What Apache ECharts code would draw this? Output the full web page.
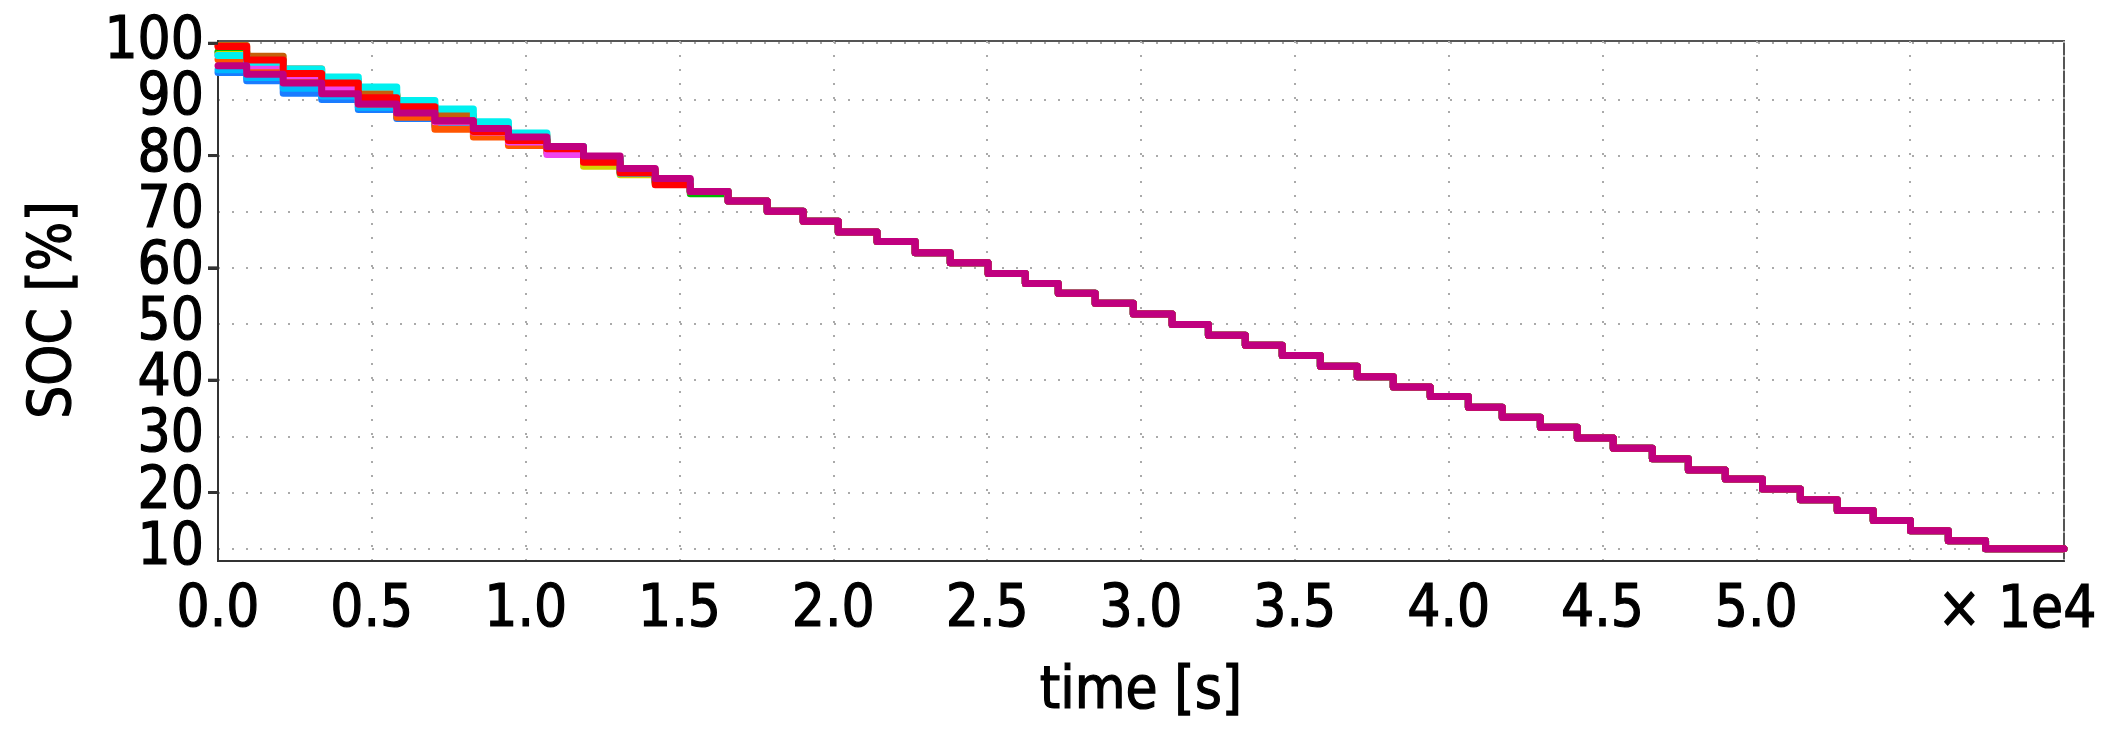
<!DOCTYPE html>
<html>
<head>
<meta charset="utf-8">
<script src="https://cdn.jsdelivr.net/npm/echarts@6/dist/echarts.min.js"></script>
<style>
  html, body { margin: 0; padding: 0; background: #fff; }
  #soc-chart { width: 2111px; height: 738px; }
</style>
</head>
<body>
<div id="soc-chart"></div>
<script>
// time [s] at which each SOC step happens
const dropTimes = [933, 2120, 3370, 4560, 5810, 7050, 8300, 9440, 10690, 11880, 13070, 14210,
  15350, 16580, 17850, 19020, 20160, 21420, 22660, 23800, 25030, 26240, 27310, 28510, 29750,
  31010, 32190, 33390, 34590, 35830, 37030, 38200, 39400, 40640, 41740, 42980, 44180, 45350,
  46620, 47790, 48990, 50200, 51430, 52630, 53800, 55010, 56240, 57450];

// first 14 plateaus of every run, before the curves meet [%]
const blueEarly      = [94.8, 93.3, 91.1, 90.0, 88.2, 86.6, 85.2, 84.0, 82.6, 80.9, 79.0, 77.1, 75.4, 73.6];
const skyEarly       = [95.3, 93.9, 92.0, 90.6, 88.6, 86.9, 85.5, 84.2, 82.7, 81.0, 79.1, 77.2, 75.5, 73.6];
const tealEarly      = [98.3, 96.5, 94.5, 92.6, 90.6, 88.4, 86.5, 84.7, 82.8, 81.0, 79.2, 77.2, 75.3, 73.6];
const greenEarly     = [98.5, 96.8, 94.8, 92.9, 90.8, 88.7, 86.7, 84.8, 82.9, 81.0, 79.0, 77.1, 75.2, 73.2];
const yellowEarly    = [98.0, 96.2, 94.4, 92.5, 90.5, 88.5, 86.5, 84.6, 82.7, 80.6, 78.1, 76.6, 75.0, 73.6];
const orangeEarly    = [97.1, 95.5, 93.6, 91.8, 89.2, 86.8, 84.7, 83.3, 81.8, 80.6, 79.0, 77.0, 75.4, 73.6];
const violetEarly    = [97.8, 96.0, 94.2, 92.0, 89.6, 87.8, 86.0, 84.2, 82.4, 80.2, 79.0, 77.3, 75.6, 73.6];
const brownEarly     = [99.6, 97.7, 95.4, 93.4, 91.0, 89.0, 87.2, 85.4, 83.6, 81.6, 79.6, 77.5, 75.6, 73.6];
const cyanEarly      = [97.8, 96.6, 95.4, 94.0, 92.2, 89.8, 88.3, 86.0, 84.0, 81.6, 79.4, 76.8, 75.3, 73.6];
const redEarly       = [99.4, 97.0, 94.6, 92.9, 90.3, 88.7, 86.2, 84.3, 82.7, 81.2, 78.8, 76.9, 74.8, 73.6];
const magentaEarly   = [96.0, 94.5, 92.9, 91.0, 89.2, 87.6, 86.2, 84.8, 83.3, 81.6, 79.9, 77.7, 75.9, 73.6];

// shared plateaus once all runs coincide [%]
const commonLevels = [71.9, 70.1, 68.3, 66.4, 64.7, 62.7, 60.9, 59.0, 57.2, 55.5, 53.7, 51.8,
  49.9, 48.0, 46.2, 44.4, 42.5, 40.6, 38.8, 37.1, 35.2, 33.4, 31.6, 29.7, 27.9, 26.0, 24.0,
  22.4, 20.6, 18.7, 16.8, 15.0, 13.2, 11.4, 10.0];

const endTime = 60000;
const yGridValues = [10, 20, 30, 40, 50, 60, 70, 80, 90, 100];
const yOddLabels = [10, 30, 50, 70, 90];
const yEvenLabels = [20, 40, 60, 80, 100];

const runs = [
  { color: '#1a7cff', early: blueEarly },
  { color: '#00b8ff', early: skyEarly },
  { color: '#20a0a0', early: tealEarly },
  { color: '#00b400', early: greenEarly },
  { color: '#d4d400', early: yellowEarly },
  { color: '#ff5500', early: orangeEarly },
  { color: '#ee44ee', early: violetEarly },
  { color: '#c4600c', early: brownEarly },
  { color: '#00f0f0', early: cyanEarly },
  { color: '#ff0000', early: redEarly },
  { color: '#c0007f', early: magentaEarly }
];

const FONT = '"DejaVu Sans Condensed", "DejaVu Sans", sans-serif';
const textLook = {
  fontFamily: FONT, fontSize: 58, color: '#000',
  textBorderColor: '#000', textBorderWidth: 1.2
};

function buildPoints(early) {
  const levels = early.concat(commonLevels);
  const pts = [[0, levels[0]]];
  dropTimes.forEach((t, i) => pts.push([t, levels[i + 1]]));
  pts.push([endTime, levels[levels.length - 1]]);
  return pts;
}

const chart = echarts.init(document.getElementById('soc-chart'));

const yLabelStyle = Object.assign({
  show: true, margin: 14,
  showMinLabel: true, showMaxLabel: true, hideOverlap: false
}, textLook);

const option = {
  animation: false,
  backgroundColor: '#fff',
  grid: {
    left: 218, right: 47, top: 41, bottom: 177,
    show: true, borderColor: '#555', borderWidth: 2
  },
  xAxis: {
    type: 'value',
    min: 0, max: endTime, interval: 5000,
    name: 'time [s]',
    nameLocation: 'middle',
    nameGap: 103,
    nameTextStyle: textLook,
    axisLine: { lineStyle: { color: '#333', width: 2 } },
    axisTick: { show: false },
    axisLabel: Object.assign({
      margin: 21,
      formatter: v => (v > 50000 ? '' : (v / 10000).toFixed(1))
    }, textLook),
    splitLine: { show: true, lineStyle: { color: '#aaa', width: 2, type: [2, 12] } }
  },
  yAxis: [
    {
      // dotted grid every 10 %, odd labels
      type: 'value',
      min: 7.8, max: 100.4,
      position: 'left',
      axisLine: { show: false },
      axisTick: { show: false, customValues: yGridValues },
      axisLabel: Object.assign({ customValues: yOddLabels }, yLabelStyle),
      splitLine: { show: true, lineStyle: { color: '#aaa', width: 2, type: [2, 12] } }
    },
    {
      // axis line, ticks and even labels
      type: 'value',
      min: 7.8, max: 100.4,
      position: 'left',
      axisLine: { show: true, onZero: false, lineStyle: { color: '#333', width: 2 } },
      axisTick: { show: true, inside: false, length: 10, customValues: yEvenLabels, lineStyle: { color: '#333', width: 3 } },
      axisLabel: Object.assign({ customValues: yEvenLabels }, yLabelStyle),
      splitLine: { show: false }
    }
  ],
  graphic: [
    {
      type: 'text',
      right: 14, top: 582,
      style: { text: '× 1e4', fontFamily: FONT, fontSize: 58, fill: '#000', stroke: '#000', lineWidth: 1.2 }
    },
    {
      type: 'text',
      x: 55, y: 310, rotation: Math.PI / 2,
      style: {
        text: 'SOC [%]', fontFamily: FONT, fontSize: 58, fill: '#000', stroke: '#000', lineWidth: 1.2,
        align: 'center', verticalAlign: 'middle'
      }
    }
  ],
  series: runs.map(r => ({
    type: 'line',
    yAxisIndex: 0,
    step: 'end',
    showSymbol: false,
    data: buildPoints(r.early),
    lineStyle: { color: r.color, width: 7, join: 'round', cap: 'round' },
    itemStyle: { color: r.color }
  }))
};

chart.setOption(option);

// outward y ticks every 20 %, placed through the series' own scale
const tickMarks = yEvenLabels.map(v => {
  const p = chart.convertToPixel({ seriesIndex: 0 }, [0, v]);
  return {
    type: 'line', z: 100,
    shape: { x1: p[0] - 10, y1: p[1], x2: p[0], y2: p[1] },
    style: { stroke: '#333', lineWidth: 3 }
  };
});
chart.setOption({ graphic: option.graphic.concat(tickMarks) });
</script>
</body>
</html>
